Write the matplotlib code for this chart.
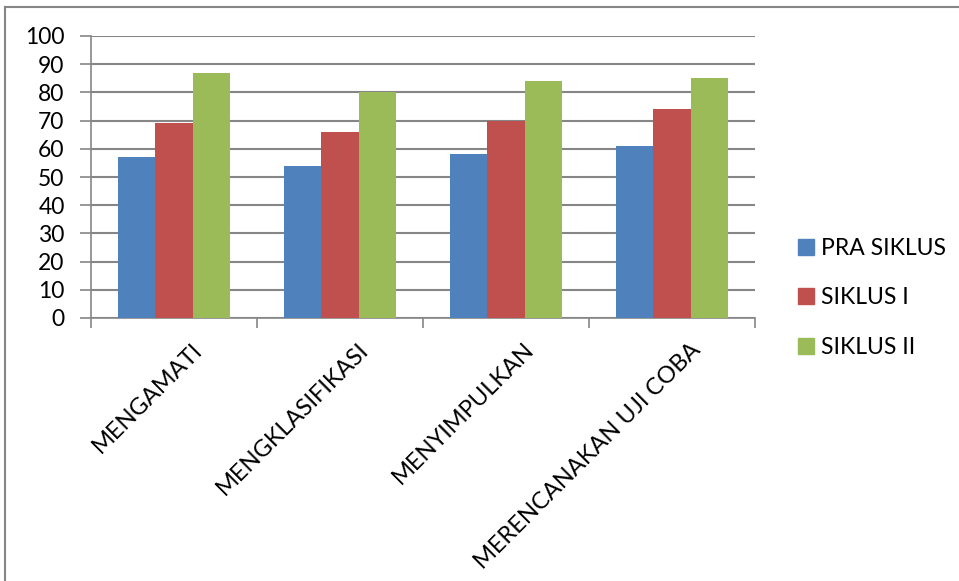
import matplotlib.pyplot as plt
import numpy as np
from matplotlib.lines import Line2D

plt.rcParams['font.family'] = ['Lato', 'DejaVu Sans']

categories = ["MENGAMATI", "MENGKLASIFIKASI", "MENYIMPULKAN", "MERENCANAKAN UJI COBA"]
series_names = ["PRA SIKLUS", "SIKLUS I", "SIKLUS II"]
pra_siklus = [57, 54, 58, 61]
siklus_1 = [69, 66, 70, 74]
siklus_2 = [87, 80, 84, 85]
colors = ["#4F81BD", "#C0504D", "#9BBB59"]

W, H = 959, 581
fig = plt.figure(figsize=(W / 100, H / 100), dpi=100)
ax = fig.add_axes([91 / W, 1 - 318 / H, (755 - 91) / W, (318 - 36) / H])

x = np.arange(len(categories))
bw = 0.223
for i, (vals, name) in enumerate(zip([pra_siklus, siklus_1, siklus_2], series_names)):
    ax.bar(x + (i - 1) * bw, vals, bw, color=colors[i], label=name, zorder=3)

ax.set_xlim(-0.5, len(categories) - 0.5)
ax.set_ylim(0, 100)
ax.set_yticks(range(0, 101, 10))
ax.yaxis.grid(True, color="#868686", linewidth=1.5, zorder=0)
for s in ["top", "right"]:
    ax.spines[s].set_visible(False)
for s in ["left", "bottom"]:
    ax.spines[s].set_color("#868686")
    ax.spines[s].set_linewidth(1.2)

# category boundary ticks
ax.set_xticks(np.arange(-0.5, len(categories)), minor=False)
ax.set_xticklabels([])
ax.tick_params(axis="x", length=7, width=1.2, color="#868686", direction="out")
ax.tick_params(axis="y", length=8, width=1.2, color="#868686", labelsize=16.5, pad=11)

for xi, lab in zip(x, categories):
    ax.annotate(lab, xy=(xi + 0.13, 0), xycoords=("data", "axes fraction"),
                xytext=(-3, -15), textcoords="offset points",
                rotation=45, ha="right", va="top", rotation_mode="anchor",
                fontsize=17)

handles = [Line2D([0], [0], marker="s", linestyle="", markersize=11,
                  markerfacecolor=c, markeredgecolor=c) for c in colors]
fig.legend(handles, series_names, loc="upper left",
           bbox_to_anchor=(774 / W, 1 - 217 / H), frameon=False,
           fontsize=16.5, labelspacing=1.25, handletextpad=0.15, handlelength=1.0)

# chart-area border (left and top)
fig.add_artist(Line2D([5 / W, 5 / W], [0, 1 - 7 / H], transform=fig.transFigure,
                      color="#868686", linewidth=1.5))
fig.add_artist(Line2D([5 / W, 1], [1 - 7 / H, 1 - 7 / H], transform=fig.transFigure,
                      color="#868686", linewidth=1.5))

fig.savefig("out.png", dpi=100)
